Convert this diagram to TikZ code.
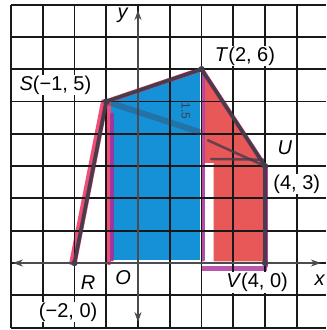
\documentclass[tikz,border=0pt]{standalone}
\usepackage{fontspec}
\setmainfont{Liberation Sans}
\usetikzlibrary{arrows.meta}
\definecolor{gridc}{RGB}{25,25,25}
\definecolor{axisc}{RGB}{75,75,80}
\definecolor{bluec}{RGB}{20,145,215}
\definecolor{redc}{RGB}{232,88,88}
\definecolor{pinkc}{RGB}{238,60,105}
\definecolor{purpc}{RGB}{170,45,150}
\definecolor{edgec}{RGB}{70,60,75}
\tikzset{
  lbl/.style={fill=white,inner sep=1pt,text=black,font=\fontsize{20}{22}\selectfont},
  gridline/.style={gridc,line width=1.9pt},
  axisline/.style={axisc,line width=2.6pt,{Stealth[length=10pt,width=7pt]}-{Stealth[length=10pt,width=7pt]}},
  edge/.style={edgec,line width=3.6pt,line cap=round,line join=round},
  markpink/.style={pinkc,line width=4.5pt,line cap=round,opacity=0.9},
  markpurp/.style={purpc,line width=3.5pt,line cap=round,opacity=0.85},
  scribble/.style={edgec,line width=2.5pt,line cap=round,opacity=0.8}
}
\begin{document}
\begin{tikzpicture}[x=31.75pt,y=32.3pt]
\useasboundingbox (-4.346,-2.074) rectangle (5.921,8.142);
\fill[white] (-4.346,-2.074) rectangle (5.921,8.142);
% vertices
\coordinate (R) at (-2,0);
\coordinate (S) at (-1,5);
\coordinate (T) at (2,6);
\coordinate (U) at (4,3);
\coordinate (V) at (4,0);
\coordinate (F) at (-1,0);
% colour fills
\fill[bluec] (-0.85,0.1) -- (-0.85,5.02) -- (1.95,5.93) -- (1.95,0.1) -- cycle;
\fill[redc] (2.1,5.85) -- (3.95,3.07) -- (3.95,0.05) -- (2.38,0.05) -- (2.38,3.1) -- (2.1,3.1) -- cycle;
% marker outlines
\draw[markpink] (R) -- (S) -- (T) -- (U) -- (V);
\draw[markpink] ([xshift=3pt]S) -- ([xshift=3pt]F);
\draw[markpink] ([xshift=-3pt]R) -- ([xshift=-3pt]S);
\draw[markpurp] (-0.82,0.1) -- (-0.82,4.6);
\draw[markpurp] (2.04,0.1) -- (2.04,5.8);
\draw[purpc,line width=5pt,opacity=0.8] (2.0,-0.17) -- (4.05,-0.17);
\draw[markpurp] (4.05,-0.1) -- (4.05,3.0);
% grid
\foreach \i in {-4,...,5} \draw[gridline] (\i,-2) -- (\i,8);
\foreach \j in {-2,...,8} \draw[gridline] (-4,\j) -- (5.93,\j);
% axes
\draw[axisline] (-3.94,0) -- (5.76,0);
\draw[axisline] (0,-1.83) -- (0,7.83);
% scribbles
\draw[scribble,opacity=0.35,line width=6pt] (S) -- (1.95,4.05);
\draw[scribble] (2.2,3.8) -- (U);
\draw[scribble] (2.3,3.22) -- (3.95,3.2);
\node[text=edgec,rotate=-90,inner sep=0pt,font=\fontsize{12}{12}\selectfont] (hw) at (1.5,4.7) {1.5};
% polygon
\draw[edge] (R) -- (S) -- (T) -- (U) -- (V);
\foreach \p in {R,S,T,U,V} \fill[edgec] (\p) circle (3.2pt);
% labels
\node[lbl] (lS) at (-2.6,5.51) {\textit{S}(−1, 5)};
\node[lbl] (lT) at (3.37,6.41) {\textit{T}(2, 6)};
\node[lbl] (lU) at (4.63,3.56) {\textit{U}};
\node[lbl] (lU2) at (5.0,2.45) {(4, 3)};
\node[lbl] (lR) at (-1.57,-0.62) {\textit{R}};
\node[lbl] (lO) at (-0.47,-0.46) {\textit{O}};
\node[lbl] (lR2) at (-2.2,-1.52) {(−2, 0)};
\node[lbl] (lV) at (3.75,-0.6) {\textit{V}(4, 0)};
\node[lbl] (ly) at (-0.47,7.68) {\textit{y}};
\node[lbl] (lx) at (5.73,-0.53) {\textit{x}};
\end{tikzpicture}
\end{document}
